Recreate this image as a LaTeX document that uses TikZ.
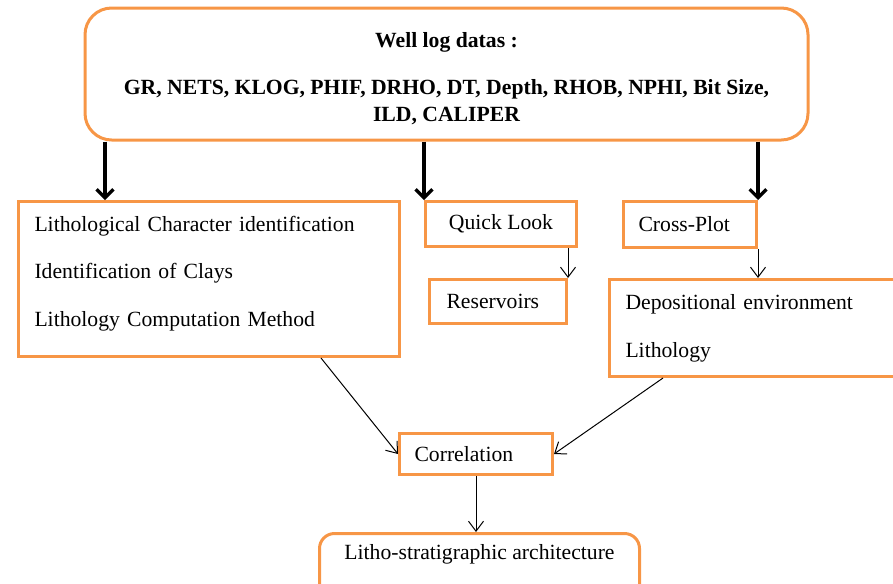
\documentclass[tikz,border=0pt,12pt]{standalone}
\usepackage{fontspec}
\setmainfont{Liberation Serif}
\usetikzlibrary{arrows.meta}
\definecolor{morange}{RGB}{247, 150, 70}
\tikzset{box/.style = {draw = morange, line width = 1.8pt, rectangle, inner ysep = 0pt}}
\tikzset{bigarrow/.style = {line width = 2pt, -{Straight Barb[length = 5pt, width = 10pt]}}}
\tikzset{smallarrow/.style = {line width = 0.6pt, -{Straight Barb[length = 6pt, width = 9pt]}}}

\begin{document}
\begin{tikzpicture}[x = 0.6pt, y = -0.6pt, font = \fontsize{13}{15.6}\selectfont]
      \useasboundingbox (0, 0) rectangle (893, 583);

      % input data
      \node [box, rounded corners = 16pt, minimum width = 433.8pt, minimum height = 79.2pt,
        align = center, font = \fontsize{13}{15.6}\selectfont\bfseries] (logs) at (446.5, 74)
        {Well log datas :\\[12.6pt]
         GR, NETS, KLOG, PHIF, DRHO, DT, Depth, RHOB, NPHI, Bit Size,\\[0.6pt]
         ILD, CALIPER\\[-19pt]\mbox{}};

      % first level
      \node [box, anchor = north west, minimum height = 93pt, inner xsep = 9.6pt,
        text width = 209.4pt, align = left] (lith) at (17, 200)
        {Lithological Character identification\\[12.9pt]
         Identification of Clays\\[12.9pt]
         Lithology Computation Method\\[-6pt]\mbox{}};
      \node [box, anchor = north west, minimum width = 90.6pt, minimum height = 27pt] (look) at (424, 200) {Quick Look};
      \node [box, anchor = north west, minimum height = 27.6pt, inner xsep = 9pt,
        text width = 61.8pt, align = left] (cross) at (622, 200) {\mbox{Cross-Plot}};

      % second level
      \node [box, anchor = north west, minimum height = 26.4pt, inner xsep = 10.2pt,
        text width = 61.8pt, align = left] (res) at (428, 278) {\mbox{Reservoirs}};
      \node [box, anchor = north west, minimum height = 58.2pt, inner xsep = 9.6pt,
        text width = 162pt, align = left] (dep) at (608, 278)
        {Depositional environment\\[13.2pt]
         Lithology};

      \node [box, anchor = north west, minimum height = 24.6pt, inner xsep = 9pt,
        text width = 73.8pt, align = left] (corr) at (398, 432) {Correlation};
      \node [box, rounded corners = 9pt, anchor = north west, minimum width = 192pt,
        minimum height = 40.8pt, text depth = 18.2pt] (arch) at (318, 532)
        {Litho-stratigraphic architecture};

      \coordinate (lith in) at ([xshift = 52.8pt] lith.north west);
      \coordinate (lith out) at ([xshift = -48pt] lith.south east);
      \coordinate (dep out) at ([xshift = 33pt] dep.south west);

      \draw [bigarrow] (lith in |- logs.south) -- (lith in);
      \draw [bigarrow] (look.north west |- logs.south) -- (look.north west);
      \draw [bigarrow] (cross.north east |- logs.south) -- (cross.north east);

      \draw [smallarrow] (look.south -| res.north east) -- (res.north east);
      \draw [smallarrow] (cross.south east) -- (cross.south east |- dep.north);
      \draw [smallarrow] (lith out) -- (corr.west);
      \draw [smallarrow] (dep out) -- (corr.east);
      \draw [smallarrow] (corr.south) -- (corr.south |- arch.north);
    \end{tikzpicture}
\end{document}
